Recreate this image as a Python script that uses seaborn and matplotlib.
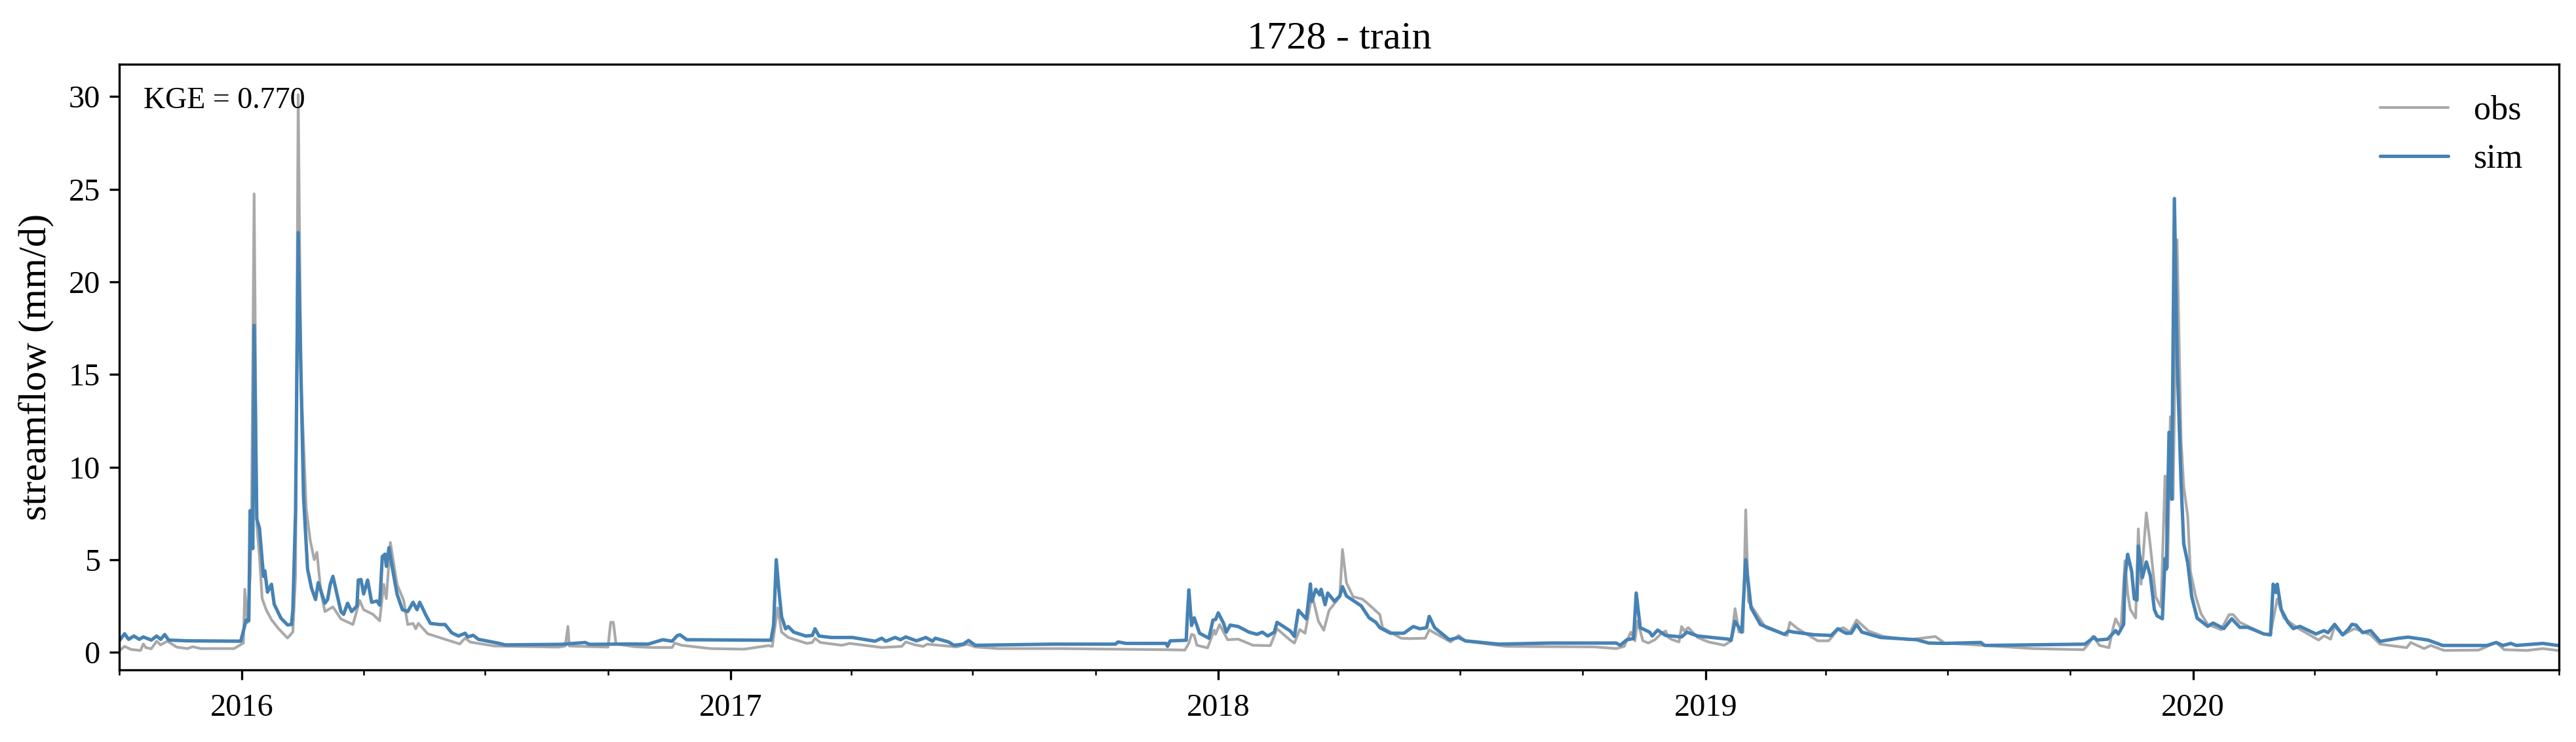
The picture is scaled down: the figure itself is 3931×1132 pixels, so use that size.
import pandas as pd
import matplotlib
matplotlib.use("Agg")
import matplotlib.pyplot as plt
import matplotlib.dates as mdates
import seaborn as sns

# days counted from start_date, streamflow in mm/d
start_date = "2015-10-01"
end_date = "2020-10-01"

obs_days = [0, 4, 9, 16, 18, 20, 24, 28, 31, 36, 43, 51, 55, 61, 86, 93, 94, 96, 98, 99, 101, 103, 105, 107, 110,
            114, 119, 126, 130, 132, 134, 136, 140, 143, 146, 148, 151, 154, 160, 166, 175, 180, 183, 190, 195,
            198, 200, 203, 208, 213, 216, 220, 222, 224, 231, 244, 255, 259, 263, 281, 329, 334, 336, 337, 366,
            368, 370, 372, 386, 399, 414, 416, 421, 443, 468, 486, 489, 493, 496, 501, 515, 519, 521, 525, 541,
            547, 571, 586, 589, 596, 602, 605, 627, 635, 641, 658, 705, 746, 784, 798, 801, 803, 805, 807, 815,
            820, 821, 824, 830, 838, 849, 862, 867, 877, 880, 884, 888, 892, 894, 898, 902, 906, 910, 914, 916,
            919, 924, 931, 935, 944, 946, 960, 966, 978, 981, 997, 1003, 1008, 1039, 1105, 1121, 1127, 1132,
            1135, 1137, 1141, 1145, 1150, 1155, 1158, 1160, 1163, 1168, 1170, 1172, 1175, 1182, 1190, 1202,
            1207, 1210, 1213, 1216, 1218, 1220, 1227, 1233, 1249, 1251, 1257, 1272, 1280, 1283, 1287, 1291,
            1296, 1301, 1310, 1321, 1340, 1360, 1367, 1397, 1433, 1471, 1475, 1478, 1483, 1490, 1493, 1495,
            1499, 1502, 1504, 1506, 1510, 1512, 1514, 1518, 1521, 1525, 1529, 1532, 1534, 1536, 1538, 1541,
            1544, 1546, 1549, 1551, 1555, 1559, 1564, 1574, 1580, 1583, 1588, 1606, 1611, 1616, 1621, 1632,
            1647, 1651, 1656, 1659, 1665, 1674, 1686, 1693, 1713, 1716, 1726, 1731, 1741, 1767, 1780, 1786,
            1803, 1815, 1826]
obs_q = [0.08, 0.32, 0.15, 0.10, 0.45, 0.25, 0.19, 0.60, 0.40, 0.60, 0.28, 0.20, 0.30, 0.20, 0.20, 0.50, 3.40, 1.60,
         4.10, 6.90, 24.75, 6.90, 5.17, 2.90, 2.30, 1.76, 1.30, 0.77, 1.10, 4.10, 30.1, 14.85, 7.76, 6.04, 5.00,
         5.40, 3.25, 2.20, 2.45, 1.80, 1.50, 2.80, 2.30, 2.05, 1.70, 3.67, 2.90, 5.93, 3.67, 2.80, 1.50, 1.56,
         1.27, 1.56, 1.00, 0.70, 0.45, 0.77, 0.55, 0.34, 0.28, 0.34, 1.40, 0.34, 0.28, 1.62, 1.62, 0.45, 0.30,
         0.26, 0.26, 0.50, 0.38, 0.20, 0.17, 0.36, 0.32, 2.40, 1.09, 0.80, 0.48, 0.53, 0.76, 0.53, 0.38, 0.48,
         0.26, 0.32, 0.56, 0.40, 0.32, 0.44, 0.29, 0.44, 0.29, 0.20, 0.20, 0.17, 0.14, 0.12, 0.50, 0.97, 0.91,
         0.38, 0.24, 1.20, 0.97, 1.50, 0.68, 0.71, 0.38, 0.36, 1.27, 0.65, 0.50, 1.23, 1.03, 2.63, 2.87, 1.68,
         1.19, 2.27, 2.63, 3.00, 5.55, 3.75, 3.00, 2.87, 2.63, 2.04, 1.33, 0.76, 0.74, 0.76, 1.21, 0.56, 0.91,
         0.60, 0.32, 0.29, 0.20, 0.32, 1.09, 0.62, 1.68, 0.62, 0.50, 0.68, 1.03, 1.15, 0.80, 0.68, 0.56, 1.39,
         1.15, 1.33, 0.80, 0.56, 0.38, 0.62, 2.36, 1.09, 1.09, 7.69, 2.75, 1.98, 1.33, 0.91, 1.62, 1.27, 0.62,
         0.62, 0.86, 1.23, 1.33, 1.09, 1.74, 1.15, 0.86, 0.68, 0.85, 0.50, 0.37, 0.20, 0.14, 0.48, 0.87, 0.37,
         0.25, 1.28, 1.81, 1.28, 4.94, 3.18, 2.31, 1.85, 6.66, 3.68, 7.53, 5.74, 3.00, 2.43, 9.52, 4.60, 12.72,
         8.26, 22.27, 11.47, 8.95, 7.35, 4.37, 3.00, 2.08, 1.51, 1.22, 2.04, 2.04, 1.62, 0.99, 0.99, 2.88, 1.85,
         1.28, 0.66, 0.89, 0.71, 1.40, 0.94, 1.28, 0.94, 0.44, 0.25, 0.53, 0.20, 0.37, 0.10, 0.12, 0.53, 0.14,
         0.10, 0.20, 0.10]

sim_days = [0, 4, 7, 11, 15, 18, 24, 28, 31, 34, 37, 51, 91, 95, 97, 98, 100, 101, 103, 105, 108, 109, 111, 114,
            116, 121, 126, 129, 130, 132, 134, 136, 138, 141, 144, 147, 149, 154, 156, 158, 160, 163, 166, 168,
            171, 174, 178, 179, 181, 183, 186, 189, 193, 195, 197, 199, 200, 202, 204, 208, 212, 216, 220, 223,
            225, 230, 233, 240, 244, 249, 254, 259, 261, 265, 269, 284, 289, 331, 349, 352, 386, 396, 407, 414,
            418, 420, 425, 488, 490, 492, 494, 496, 499, 501, 505, 514, 519, 521, 524, 533, 549, 566, 571, 574,
            581, 585, 589, 597, 604, 609, 611, 621, 625, 632, 636, 641, 699, 746, 748, 754, 784, 785, 787, 799,
            800, 801, 803, 805, 809, 816, 819, 821, 823, 827, 829, 832, 838, 846, 852, 856, 860, 865, 867, 877,
            880, 883, 889, 892, 893, 896, 899, 900, 903, 905, 910, 914, 916, 919, 930, 936, 941, 944, 952, 962,
            969, 974, 979, 981, 985, 996, 1003, 1008, 1033, 1071, 1121, 1124, 1129, 1134, 1136, 1139, 1146,
            1148, 1152, 1158, 1170, 1174, 1182, 1205, 1207, 1210, 1215, 1218, 1222, 1229, 1247, 1250, 1254,
            1269, 1282, 1287, 1293, 1297, 1301, 1305, 1319, 1346, 1355, 1367, 1394, 1397, 1472, 1479, 1481,
            1489, 1495, 1497, 1501, 1502, 1504, 1507, 1509, 1511, 1512, 1515, 1518, 1521, 1524, 1526, 1530,
            1532, 1533, 1535, 1537, 1539, 1541, 1544, 1546, 1549, 1552, 1556, 1564, 1568, 1576, 1582, 1588,
            1594, 1606, 1611, 1613, 1615, 1616, 1619, 1624, 1628, 1633, 1645, 1651, 1654, 1659, 1665, 1669,
            1672, 1675, 1680, 1686, 1693, 1707, 1714, 1729, 1740, 1773, 1780, 1785, 1791, 1795, 1815, 1826]
sim_q = [0.62, 1.00, 0.70, 0.88, 0.70, 0.83, 0.66, 0.88, 0.70, 0.96, 0.66, 0.62, 0.60, 1.74, 1.70, 7.65, 5.60,
         17.65, 7.20, 6.70, 4.10, 4.40, 3.25, 3.67, 2.60, 1.85, 1.48, 1.50, 2.30, 7.55, 22.66, 15.30, 8.40, 4.50,
         3.45, 2.85, 3.76, 2.65, 2.85, 3.67, 4.10, 3.15, 2.20, 2.05, 2.65, 2.20, 2.50, 3.90, 3.93, 3.15, 3.90,
         2.70, 2.77, 2.55, 5.17, 5.30, 4.64, 5.65, 4.75, 3.15, 2.30, 2.20, 2.70, 2.30, 2.70, 1.95, 1.56, 1.50,
         1.50, 1.05, 0.88, 1.03, 0.83, 0.92, 0.70, 0.49, 0.40, 0.43, 0.53, 0.43, 0.45, 0.44, 0.68, 0.60, 0.91,
         0.94, 0.68, 0.65, 1.45, 5.00, 3.34, 1.92, 1.27, 1.39, 1.09, 0.88, 0.91, 1.27, 0.88, 0.80, 0.80, 0.60,
         0.76, 0.60, 0.80, 0.68, 0.83, 0.62, 0.80, 0.60, 0.76, 0.56, 0.38, 0.44, 0.64, 0.38, 0.44, 0.44, 0.56,
         0.48, 0.48, 0.32, 0.62, 0.65, 2.15, 3.37, 1.45, 1.86, 1.03, 0.76, 1.74, 1.77, 2.13, 1.56, 1.09, 1.47,
         1.39, 1.09, 0.97, 1.09, 0.88, 1.09, 1.62, 1.15, 0.86, 2.27, 1.80, 3.69, 2.75, 3.40, 3.10, 3.40, 2.57,
         3.20, 2.75, 3.04, 3.54, 3.04, 2.51, 1.86, 1.62, 1.33, 1.03, 1.03, 1.39, 1.27, 1.33, 1.94, 1.33, 0.68,
         0.80, 0.62, 0.44, 0.50, 0.50, 0.38, 0.68, 0.74, 3.20, 1.33, 1.09, 0.88, 1.20, 0.91, 0.83, 1.09, 0.88,
         0.71, 0.64, 1.68, 1.09, 5.00, 2.40, 1.50, 0.97, 1.15, 1.09, 0.95, 0.91, 1.27, 1.03, 1.03, 1.50, 1.09,
         0.80, 0.68, 0.50, 0.48, 0.53, 0.37, 0.44, 0.82, 0.66, 0.71, 1.17, 0.99, 1.51, 4.03, 5.29, 4.37, 2.88,
         2.82, 5.74, 4.03, 4.88, 4.14, 2.31, 1.97, 1.81, 5.06, 4.49, 11.88, 8.26, 24.50, 16.04, 9.18, 5.86, 4.83,
         3.00, 1.85, 1.40, 1.58, 1.28, 1.81, 1.35, 1.35, 0.99, 0.94, 3.68, 3.23, 3.68, 2.31, 1.62, 1.28, 1.40,
         0.99, 1.17, 1.06, 1.51, 0.94, 1.22, 1.51, 1.47, 1.06, 1.17, 0.59, 0.76, 0.82, 0.66, 0.37, 0.37, 0.53,
         0.37, 0.48, 0.37, 0.48, 0.37]

series_names = ["obs", "sim"]
series_colors = {"obs": "darkgrey", "sim": "steelblue"}
series_widths = {"obs": 1.0, "sim": 1.25}
y_ticks = [0, 5, 10, 15, 20, 25, 30]

sns.set_style("ticks", {"axes.edgecolor": "black", "text.color": "black", "axes.labelcolor": "black",
                        "xtick.color": "black", "ytick.color": "black"})
plt.rcParams["font.family"] = ["Liberation Serif", "DejaVu Serif"]


def make_frame(name, days, q):
    dates = pd.Timestamp(start_date) + pd.to_timedelta(days, unit="D")
    return pd.DataFrame({"date": dates, "streamflow": q, "series": name})


df = pd.concat([make_frame("obs", obs_days, obs_q), make_frame("sim", sim_days, sim_q)], ignore_index=True)

fig, ax = plt.subplots(figsize=(3931 / 300, 1132 / 300), dpi=300)
fig.subplots_adjust(left=182 / 3931, right=3905 / 3931, bottom=1 - 1022 / 1132, top=1 - 98 / 1132)

for name in series_names:
    sns.lineplot(data=df[df["series"] == name], x="date", y="streamflow", color=series_colors[name],
                 linewidth=series_widths[name], label=name, estimator=None, errorbar=None, ax=ax)

ax.set_xlim(pd.Timestamp(start_date), pd.Timestamp(end_date))
ax.set_ylim(-0.95, 31.75)
ax.set_yticks(y_ticks)
ax.xaxis.set_major_locator(mdates.YearLocator())
ax.xaxis.set_major_formatter(mdates.DateFormatter("%Y"))
ax.xaxis.set_minor_locator(mdates.MonthLocator(bymonth=[1, 4, 7, 10]))
ax.tick_params(axis="both", which="major", labelsize=11.6)
ax.tick_params(axis="x", which="major", length=3.6, pad=5)
ax.tick_params(axis="x", which="minor", length=1.8)

ax.set_xlabel("")
ax.set_ylabel("streamflow (mm/d)", fontsize=14.5, labelpad=5.2)
ax.set_title("1728 - train", fontsize=14.5)
ax.text(0.01, 0.94, "KGE = 0.770", transform=ax.transAxes, va="center", fontsize=11)
ax.legend(loc="upper right", bbox_to_anchor=(0.998, 1.0), frameon=False, fontsize=12.5, handletextpad=0.75)

fig.savefig("out.png", dpi=300)
